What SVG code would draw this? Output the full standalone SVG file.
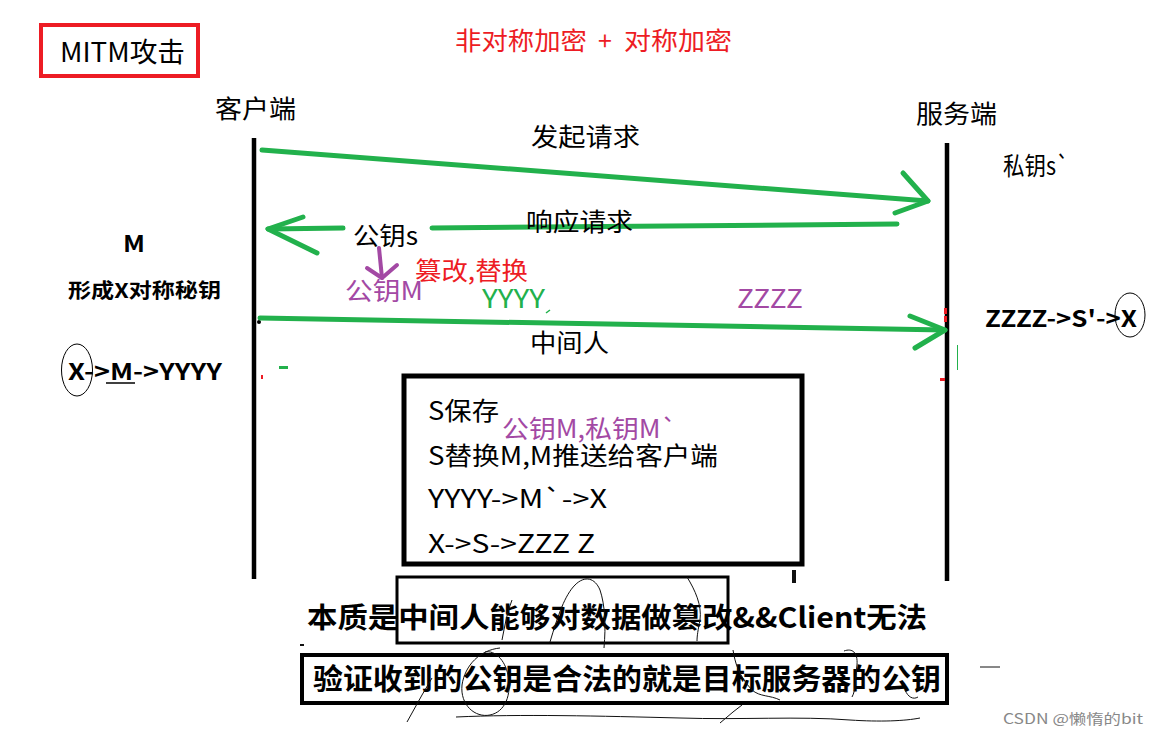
<svg xmlns="http://www.w3.org/2000/svg" width="1158" height="736" viewBox="0 0 1158 736">
<style>
text{font-family:"Noto Sans CJK SC","Microsoft YaHei",sans-serif;}
.t{font-size:25px;fill:#000;}
.b{font-weight:bold;fill:#000;}
.red{fill:#ed1c24;}
.pur{fill:#a349a4;}
.grn{fill:#22b14c;}
.g{stroke:#22b14c;stroke-width:5;fill:none;stroke-linecap:round;stroke-linejoin:round;}
.p{stroke:#a349a4;stroke-width:4;fill:none;stroke-linecap:round;stroke-linejoin:round;}
.life{stroke:#000;stroke-width:4.5;fill:none;}
.box{fill:none;stroke:#000;}
.scr{fill:none;stroke:#111;stroke-width:1;}
</style>
<rect width="1158" height="736" fill="#fff"/>

<g id="title">
<rect x="41" y="25" width="157" height="51" fill="none" stroke="#ed1c24" stroke-width="4"/>
<text x="60" y="62" style="font-size:27px" textLength="125" lengthAdjust="spacingAndGlyphs">MITM攻击</text>
</g>
<g id="subtitle">
<text class="red" x="455" y="50" style="font-size:25px" textLength="132" lengthAdjust="spacingAndGlyphs">非对称加密</text>
<text class="red" x="598" y="50" style="font-size:25px">+</text>
<text class="red" x="624" y="50" style="font-size:25px" textLength="108" lengthAdjust="spacingAndGlyphs">对称加密</text>
</g>

<g id="client">
<text class="t" x="215" y="118" textLength="81" lengthAdjust="spacingAndGlyphs">客户端</text>
<line class="life" x1="254" y1="138" x2="254" y2="579"/>
<circle cx="259" cy="322" r="2" fill="#000"/>
</g>
<g id="server">
<text class="t" x="916" y="123" textLength="81" lengthAdjust="spacingAndGlyphs">服务端</text>
<line class="life" x1="947" y1="143" x2="947" y2="581"/>
<text class="t" x="1003" y="175" textLength="66" lengthAdjust="spacingAndGlyphs">私钥s`</text>
</g>

<g id="connectors">
<g id="req">
<path class="g" d="M262 150 L928 201"/>
<path class="g" d="M903 173 L928 201 L895 213"/>
</g>
<g id="resp">
<path class="g" d="M343 228 L268 229"/>
<path class="g" d="M432 228 L897 224"/>
<path class="g" d="M303 217 L268 229 L317 253"/>
</g>
<g id="mitm">
<path class="g" d="M260 318 L945 330"/>
<path class="g" d="M910 316 L945 330 L915 348"/>
</g>
<g id="replace">
<path class="p" d="M379 248 L382 278"/>
<path class="p" d="M367 268 L382 278 L397 265"/>
</g>
</g>

<g id="labels">
<text class="t" x="531" y="146" textLength="109" lengthAdjust="spacingAndGlyphs">发起请求</text>
<text class="t" x="526" y="231" textLength="107" lengthAdjust="spacingAndGlyphs">响应请求</text>
<text class="t" x="353" y="245" textLength="65" lengthAdjust="spacingAndGlyphs">公钥s</text>
<text class="red" x="415" y="280" style="font-size:25px" textLength="113" lengthAdjust="spacingAndGlyphs">篡改,替换</text>
<text class="pur" x="345" y="300" style="font-size:25px" textLength="78" lengthAdjust="spacingAndGlyphs">公钥M</text>
<text class="grn" x="482" y="308" style="font-size:25px" textLength="63" lengthAdjust="spacingAndGlyphs">YYYY</text>
<path d="M546 313 L550 310" stroke="#22b14c" stroke-width="1.5"/>
<text class="pur" x="737" y="308" style="font-size:25px" textLength="66" lengthAdjust="spacingAndGlyphs">ZZZZ</text>
<text class="t" x="530" y="352" textLength="79" lengthAdjust="spacingAndGlyphs">中间人</text>
</g>

<g id="left-notes">
<text class="b" x="123" y="252" style="font-size:22px" textLength="22" lengthAdjust="spacingAndGlyphs">M</text>
<text class="b" x="68" y="298" style="font-size:20px" textLength="153" lengthAdjust="spacingAndGlyphs">形成X对称秘钥</text>
<text class="b" x="68" y="380" style="font-size:23px" textLength="154" lengthAdjust="spacingAndGlyphs">X-&gt;M-&gt;YYYY</text>
<line x1="106" y1="383" x2="135" y2="383" stroke="#000" stroke-width="1.5"/>
<ellipse cx="77" cy="370" rx="15.5" ry="26" fill="none" stroke="#000" stroke-width="1"/>
</g>

<g id="right-notes">
<text class="b" x="985" y="327" style="font-size:23px" textLength="152" lengthAdjust="spacingAndGlyphs">ZZZZ-&gt;S'-&gt;X</text>
<ellipse cx="1130" cy="315" rx="15" ry="22" fill="none" stroke="#000" stroke-width="1"/>
</g>

<g id="marks">
<rect x="279" y="366" width="9" height="3" fill="#22b14c"/>
<rect x="261" y="375" width="2" height="4" fill="#ed1c24"/>
<rect x="944" y="308" width="3" height="6" fill="#ed1c24"/>
<rect x="944" y="316" width="3" height="6" fill="#ed1c24"/>
<rect x="940" y="378" width="5" height="3" fill="#ed1c24"/>
<line x1="957.5" y1="345" x2="957.5" y2="370" stroke="#22b14c" stroke-width="1"/>
</g>

<g id="mitm-box">
<rect class="box" x="404" y="376" width="398" height="188" stroke-width="5"/>
<text class="t" x="428" y="420" textLength="71" lengthAdjust="spacingAndGlyphs">S保存</text>
<text class="pur" x="502" y="438" style="font-size:25px" textLength="175" lengthAdjust="spacingAndGlyphs">公钥M,私钥M`</text>
<text class="t" x="428" y="465" textLength="290" lengthAdjust="spacingAndGlyphs">S替换M,M推送给客户端</text>
<text class="t" x="428" y="508" textLength="179" lengthAdjust="spacingAndGlyphs">YYYY-&gt;M`-&gt;X</text>
<text class="t" x="428" y="553" textLength="167" lengthAdjust="spacingAndGlyphs">X-&gt;S-&gt;ZZZ Z</text>
</g>

<g id="conclusion">
<rect class="box" x="397" y="577" width="331" height="66" stroke-width="3"/>
<text class="b" x="307" y="628" style="font-size:28px" textLength="620" lengthAdjust="spacingAndGlyphs">本质是中间人能够对数据做篡改&amp;&amp;Client无法</text>
<rect class="box" x="302" y="655" width="645" height="48" stroke-width="4"/>
<text class="b" x="313" y="690" style="font-size:29px" textLength="628" lengthAdjust="spacingAndGlyphs">验证收到的公钥是合法的就是目标服务器的公钥</text>
</g>

<g id="scribbles">
<path class="scr" d="M550 642 C558 615 565 595 575 585 C585 575 595 578 600 590 C605 605 606 625 604 648"/>
<path class="scr" d="M687 577 C695 590 702 605 700 620 C698 630 697 636 697 641"/>
<path class="scr" d="M502 640 C505 625 507 612 512 600"/>
<path class="scr" d="M500 648 C480 650 465 665 462 685 C460 705 475 718 490 715 C505 712 512 695 508 675 C505 660 495 650 485 652"/>
<path class="scr" d="M407 722 L422 695 L432 678"/>
<path class="scr" d="M456 717 C520 714 600 716 680 718 C740 720 800 716 850 720 C880 722 905 721 920 718"/>
<path class="scr" d="M733 650 C735 662 738 675 752 690 C760 697 770 695 780 700"/>
<path class="scr" d="M844 651 C852 648 858 652 857 665 C855 680 856 690 852 697"/>
<path class="scr" d="M720 723 L733 712 L742 705"/>
<path class="scr" d="M905 690 C908 697 913 700 918 697"/>
<path class="scr" d="M1000 667 L980 667"/>
<rect x="300" y="644" width="4" height="2" fill="#111"/>
<rect x="792" y="570" width="4" height="13" fill="#111"/>
</g>

<text x="1003" y="724" style="font-size:14px;fill:#888" textLength="140" lengthAdjust="spacingAndGlyphs">CSDN @懒惰的bit</text>
</svg>
